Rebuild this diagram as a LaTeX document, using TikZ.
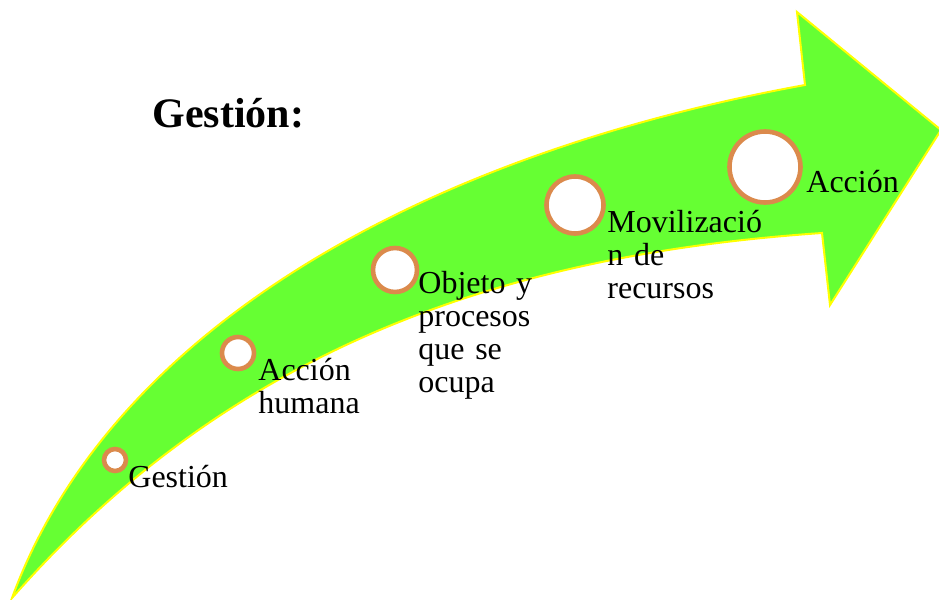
\documentclass[tikz,border=0pt]{standalone}
\usepackage{fontspec}
\setmainfont{Liberation Serif}
\newfontfamily\labelfont{Liberation Serif}[WordSpace=0.6]
\usepackage{tikz}
\definecolor{arrowgreen}{HTML}{66FF33}
\definecolor{arrowedge}{HTML}{FFFF00}
\definecolor{ringorange}{HTML}{DB8A4C}
\tikzset{
  ring/.style={circle,draw=ringorange,fill=white,line width=2.3pt,inner sep=0pt},
  steplabel/.style={anchor=base west,inner sep=0pt,text width=5cm,align=left,
    font=\labelfont\fontsize{16}{16.5}\selectfont}
}

\begin{document}
\begin{tikzpicture}[x=0.5pt,y=-0.5pt]
        \useasboundingbox (0,0) rectangle (939,600);
        % curved arrow
        \filldraw[fill=arrowgreen,draw=arrowedge,line width=1pt,line join=miter]
          (12,598) .. controls (110,330) and (420,155) .. (805,85)
          -- (797,12) -- (941,130) -- (830,305) -- (822,233)
          .. controls (500,255) and (230,350) .. (12,598) -- cycle;
        \node[anchor=base west,inner sep=0pt,font=\fontsize{21}{25}\selectfont\bfseries] (title) at (152,127) {Gestión:};
        \node[ring,minimum size=11pt] (gestion) at (115,460) {};
        \node[steplabel] (lblgestion) at (128,487) {Gestión};
        \node[ring,minimum size=16pt] (humana) at (238,353) {};
        \node[steplabel] (lblhumana) at (258,380) {Acción\\humana};
        \node[ring,minimum size=22pt] (objeto) at (395,270) {};
        \node[steplabel] (lblobjeto) at (418,293) {Objeto y\\procesos\\que se\\ocupa};
        \node[ring,minimum size=28.5pt] (recursos) at (575,205) {};
        \node[steplabel] (lblrecursos) at (607,232) {Movilizació\\n de\\recursos};
        \node[ring,minimum size=35.5pt] (accion) at (765,167) {};
        \node[steplabel] (lblaccion) at (806,192) {Acción};
      \end{tikzpicture}
\end{document}
